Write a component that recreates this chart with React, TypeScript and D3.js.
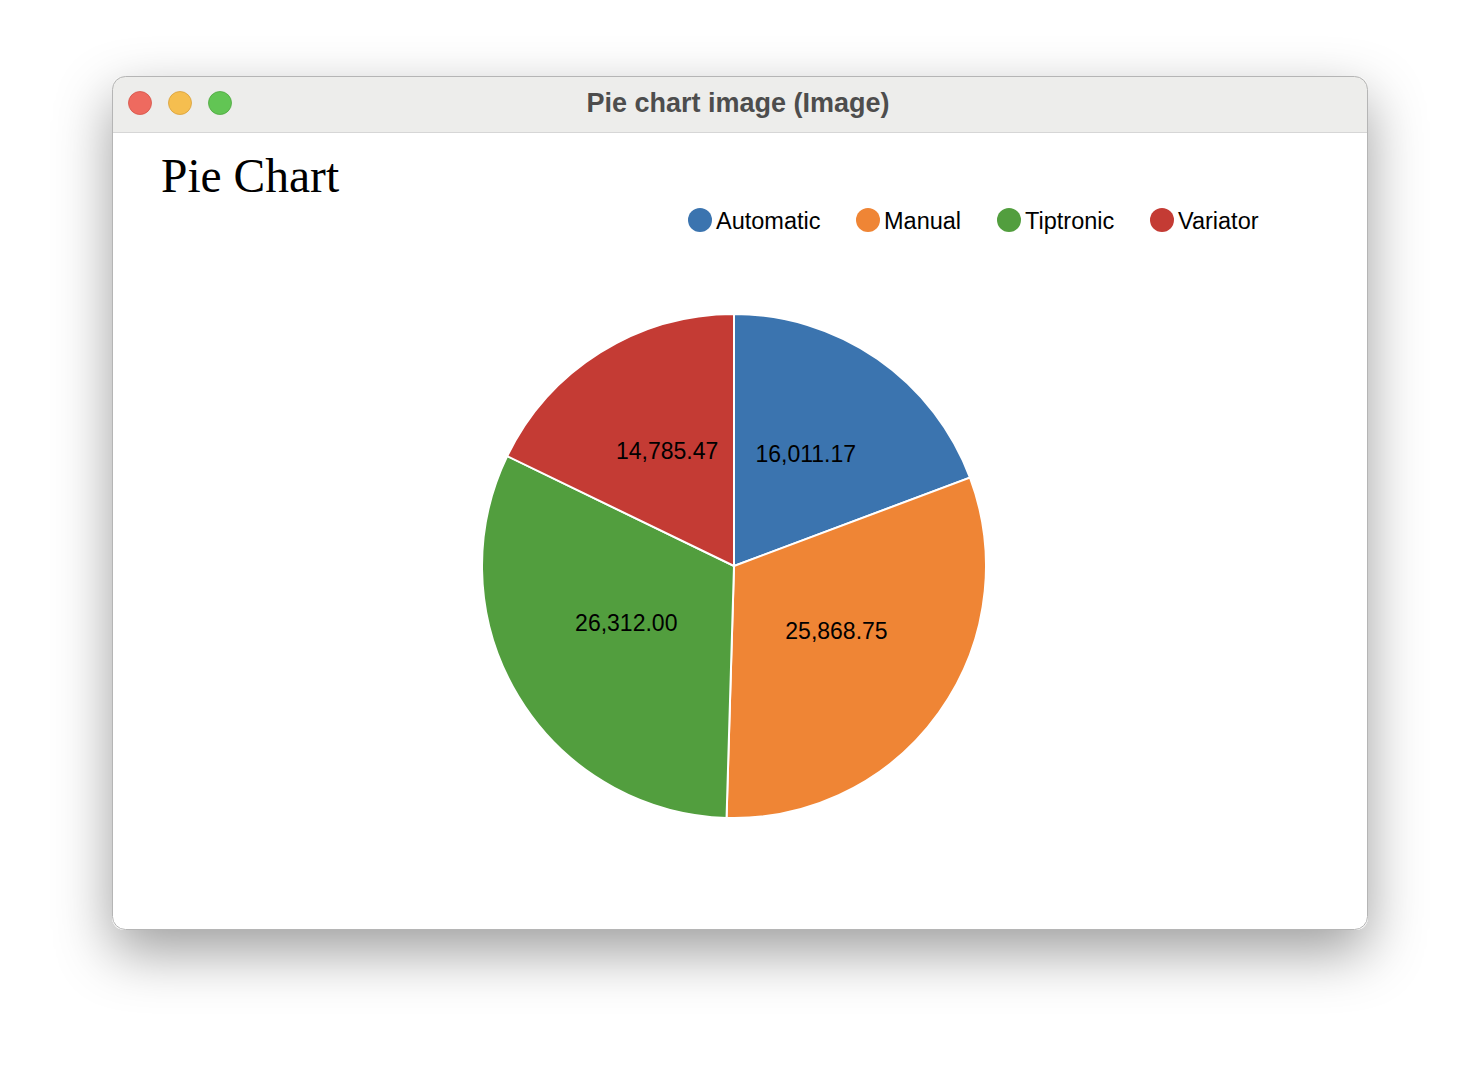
import * as d3 from "d3";
import { useEffect, useRef } from "react";

const categories = ["Automatic", "Manual", "Tiptronic", "Variator"];
const values = [16011.17, 25868.75, 26312.0, 14785.47];
const colors = ["#3b74af", "#ef8535", "#529e3e", "#c43b34"];

const W = 1480;
const H = 1078;

export default function App() {
  const ref = useRef<SVGSVGElement | null>(null);

  useEffect(() => {
    document.body.style.margin = "0";
    const svg = d3.select(ref.current);
    svg.selectAll("*").remove();

    const defs = svg.append("defs");
    const f = defs
      .append("filter")
      .attr("id", "shadow")
      .attr("x", "-20%")
      .attr("y", "-20%")
      .attr("width", "140%")
      .attr("height", "150%");
    f.append("feDropShadow")
      .attr("dx", 0)
      .attr("dy", 22)
      .attr("stdDeviation", 28)
      .attr("flood-color", "#000")
      .attr("flood-opacity", 0.38);

    const clip = defs.append("clipPath").attr("id", "win");
    clip.append("rect").attr("x", 112).attr("y", 76).attr("width", 1256).attr("height", 854).attr("rx", 13);

    // window frame
    svg
      .append("rect")
      .attr("x", 112)
      .attr("y", 76)
      .attr("width", 1256)
      .attr("height", 854)
      .attr("rx", 13)
      .attr("fill", "#fff")
      .attr("filter", "url(#shadow)");

    const win = svg.append("g").attr("clip-path", "url(#win)");
    win.append("rect").attr("x", 112).attr("y", 76).attr("width", 1256).attr("height", 56).attr("fill", "#ededeb");
    win.append("line").attr("x1", 112).attr("x2", 1368).attr("y1", 132.5).attr("y2", 132.5).attr("stroke", "#d6d6d6");

    svg
      .append("rect")
      .attr("x", 112.5)
      .attr("y", 76.5)
      .attr("width", 1255)
      .attr("height", 853)
      .attr("rx", 13)
      .attr("fill", "none")
      .attr("stroke", "#b5b5b5");

    const lights = [
      { x: 140, fill: "#ee6a5f", stroke: "#d65347" },
      { x: 180, fill: "#f5be4f", stroke: "#d8a03a" },
      { x: 220, fill: "#62c554", stroke: "#4ea73f" },
    ];
    svg
      .selectAll("circle.light")
      .data(lights)
      .enter()
      .append("circle")
      .attr("class", "light")
      .attr("cx", d => d.x)
      .attr("cy", 103)
      .attr("r", 11.5)
      .attr("fill", d => d.fill)
      .attr("stroke", d => d.stroke)
      .attr("stroke-width", 0.8);

    svg
      .append("text")
      .attr("x", 738)
      .attr("y", 112)
      .attr("text-anchor", "middle")
      .attr("font-family", "Liberation Sans, Arial, sans-serif")
      .attr("font-weight", "bold")
      .attr("font-size", 27)
      .attr("fill", "#4d4d4d")
      .text("Pie chart image (Image)");

    // chart title
    svg
      .append("text")
      .attr("x", 161)
      .attr("y", 192)
      .attr("font-family", "Liberation Serif, Times New Roman, serif")
      .attr("font-size", 47.5)
      .attr("fill", "#000")
      .text("Pie Chart");

    // legend
    const legendX = [700, 868, 1009, 1162];
    const lg = svg
      .selectAll("g.legend")
      .data(categories)
      .enter()
      .append("g")
      .attr("class", "legend")
      .attr("transform", (_, i) => `translate(${legendX[i]},220)`);
    lg.append("circle").attr("r", 12).attr("fill", (_, i) => colors[i]);
    lg.append("text")
      .attr("x", 16)
      .attr("y", 8.5)
      .attr("font-family", "Liberation Sans, Arial, sans-serif")
      .attr("font-size", 23.5)
      .attr("fill", "#000")
      .text(d => d);

    // pie
    const cx = 734;
    const cy = 566;
    const radius = 252;
    const data = categories.map((c, i) => ({ label: c, value: values[i], color: colors[i] }));
    const pie = d3.pie<(typeof data)[number]>().sort(null).value(d => d.value);
    const arc = d3.arc<d3.PieArcDatum<(typeof data)[number]>>().innerRadius(0).outerRadius(radius);
    const arcs = pie(data);
    const g = svg.append("g").attr("transform", `translate(${cx},${cy})`);
    g.selectAll("path")
      .data(arcs)
      .enter()
      .append("path")
      .attr("d", arc)
      .attr("fill", d => d.data.color)
      .attr("stroke", "#fff")
      .attr("stroke-width", 2);

    const fmt = d3.format(",.2f");
    g.selectAll("text")
      .data(arcs)
      .enter()
      .append("text")
      .attr("transform", d => `translate(${arc.centroid(d)})`)
      .attr("text-anchor", "middle")
      .attr("font-family", "Liberation Sans, Arial, sans-serif")
      .attr("font-size", 23)
      .attr("fill", "#000")
      .text(d => fmt(d.data.value));
  }, []);

  return <svg ref={ref} width={W} height={H} style={{ display: "block", background: "#fff" }} />;
}
